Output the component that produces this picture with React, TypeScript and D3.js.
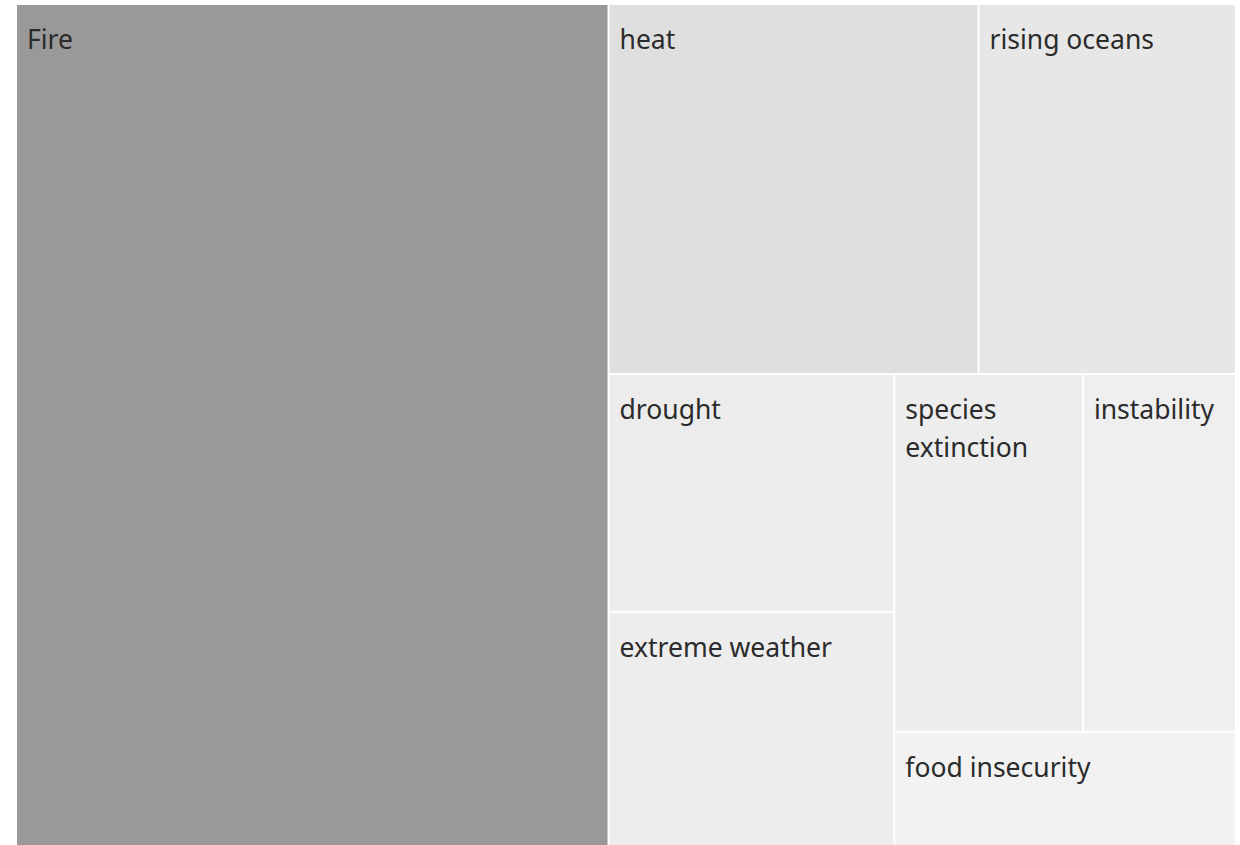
import React, { useRef, useEffect } from "react";
import * as d3 from "d3";

const categories = [
  "Fire",
  "heat",
  "rising oceans",
  "drought",
  "extreme weather",
  "species extinction",
  "instability",
  "food insecurity",
];
const values = [492, 135, 94, 67, 66, 66.5, 54, 38.5];

const App = () => {
  const svgRef = useRef<SVGSVGElement>(null);

  useEffect(() => {
    const width = 1240;
    const height = 845;
    const left = 17;
    const top = 5;

    const svg = d3.select(svgRef.current);
    svg.selectAll("*").remove();
    svg.attr("width", width).attr("height", height);

    const rows = categories.map((name, i) => ({ name, value: values[i] }));
    const root = d3
      .hierarchy({ name: "root", children: rows } as any)
      .sum((d: any) => d.value || 0);

    d3.treemap()
      .tile(d3.treemapSquarify)
      .size([width - left - 5, height - top])
      .paddingInner(2)(root as any);

    const color = d3
      .scaleLinear<string>()
      .domain([d3.min(values) as number, d3.max(values) as number])
      .range(["#f2f2f2", "#999999"]);

    const g = svg.append("g").attr("transform", `translate(${left},${top})`);

    const cell = g
      .selectAll("g")
      .data(root.leaves() as any[])
      .enter()
      .append("g")
      .attr("transform", (d) => `translate(${d.x0},${d.y0})`);

    cell
      .append("rect")
      .attr("width", (d) => d.x1 - d.x0)
      .attr("height", (d) => d.y1 - d.y0)
      .attr("fill", (d) => color(d.data.value));

    cell.each(function (d: any) {
      const maxW = d.x1 - d.x0 - 20;
      const text = d3
        .select(this)
        .append("text")
        .attr("x", 10)
        .attr("y", 44)
        .style("font-family", "'Noto Sans', sans-serif")
        .style("font-size", "26.5px")
        .attr("fill", "#2b2b2b");
      // simple word wrap
      const words = d.data.name.split(" ");
      let line: string[] = [];
      let tspan = text.append("tspan").attr("x", 10).attr("dy", 0);
      words.forEach((w: string) => {
        line.push(w);
        tspan.text(line.join(" "));
        const node = tspan.node() as SVGTSpanElement;
        if (node.getComputedTextLength() > maxW && line.length > 1) {
          line.pop();
          tspan.text(line.join(" "));
          line = [w];
          tspan = text.append("tspan").attr("x", 10).attr("dy", 38).text(w);
        }
      });
    });
  }, []);

  return (
    <svg
      ref={svgRef}
      style={{ position: "absolute", left: 0, top: 0, display: "block", background: "#fff" }}
    ></svg>
  );
};

export default App;
